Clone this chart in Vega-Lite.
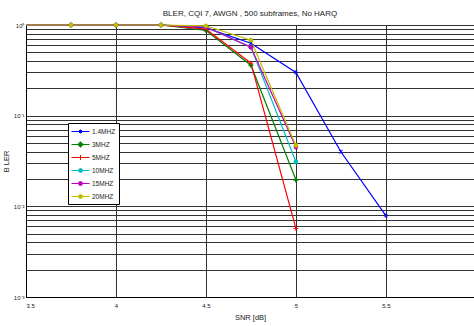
{
  "$schema": "https://vega.github.io/schema/vega-lite/v6.json",
  "width": 448,
  "height": 272,
  "autosize": {"type": "none"},
  "padding": {"left": 26, "top": 25, "right": 0, "bottom": 29},
  "background": "white",
  "title": {"text": "BLER, CQI 7, AWGN , 500 subframes, No HARQ", "fontSize": 8, "font": "Liberation Sans", "fontWeight": "normal", "anchor": "middle", "offset": 3, "color": "#222"},
  "config": {
    "view": {"stroke": "#000", "strokeWidth": 1},
    "axis": {"labelFont": "Liberation Sans", "titleFont": "Liberation Sans", "labelFontSize": 6, "titleFontSize": 7.5, "titleFontWeight": "normal", "labelColor": "#222", "titleColor": "#222", "ticks": false, "domainColor": "#000", "gridColor": "#333", "gridWidth": 1, "gridOpacity": 1}
  },
  "data": {"values": [
    {"snr": 3.5, "bler": 1, "series": "1.4MHZ"},
    {"snr": 3.75, "bler": 1, "series": "1.4MHZ"},
    {"snr": 4, "bler": 1, "series": "1.4MHZ"},
    {"snr": 4.25, "bler": 1, "series": "1.4MHZ"},
    {"snr": 4.5, "bler": 0.93, "series": "1.4MHZ"},
    {"snr": 4.75, "bler": 0.63, "series": "1.4MHZ"},
    {"snr": 5, "bler": 0.3, "series": "1.4MHZ"},
    {"snr": 5.25, "bler": 0.04, "series": "1.4MHZ"},
    {"snr": 5.5, "bler": 0.0079, "series": "1.4MHZ"},
    {"snr": 3.5, "bler": 1, "series": "3MHZ"},
    {"snr": 3.75, "bler": 1, "series": "3MHZ"},
    {"snr": 4, "bler": 1, "series": "3MHZ"},
    {"snr": 4.25, "bler": 1, "series": "3MHZ"},
    {"snr": 4.5, "bler": 0.87, "series": "3MHZ"},
    {"snr": 4.75, "bler": 0.36, "series": "3MHZ"},
    {"snr": 5, "bler": 0.0196, "series": "3MHZ"},
    {"snr": 3.5, "bler": 1, "series": "5MHZ"},
    {"snr": 3.75, "bler": 1, "series": "5MHZ"},
    {"snr": 4, "bler": 1, "series": "5MHZ"},
    {"snr": 4.25, "bler": 1, "series": "5MHZ"},
    {"snr": 4.5, "bler": 0.9, "series": "5MHZ"},
    {"snr": 4.75, "bler": 0.38, "series": "5MHZ"},
    {"snr": 5, "bler": 0.0057, "series": "5MHZ"},
    {"snr": 3.5, "bler": 1, "series": "10MHZ"},
    {"snr": 3.75, "bler": 1, "series": "10MHZ"},
    {"snr": 4, "bler": 1, "series": "10MHZ"},
    {"snr": 4.25, "bler": 1, "series": "10MHZ"},
    {"snr": 4.5, "bler": 0.95, "series": "10MHZ"},
    {"snr": 4.75, "bler": 0.57, "series": "10MHZ"},
    {"snr": 5, "bler": 0.031, "series": "10MHZ"},
    {"snr": 3.5, "bler": 1, "series": "15MHZ"},
    {"snr": 3.75, "bler": 1, "series": "15MHZ"},
    {"snr": 4, "bler": 1, "series": "15MHZ"},
    {"snr": 4.25, "bler": 1, "series": "15MHZ"},
    {"snr": 4.5, "bler": 0.95, "series": "15MHZ"},
    {"snr": 4.75, "bler": 0.57, "series": "15MHZ"},
    {"snr": 5, "bler": 0.045, "series": "15MHZ"},
    {"snr": 3.5, "bler": 1, "series": "20MHZ"},
    {"snr": 3.75, "bler": 1, "series": "20MHZ"},
    {"snr": 4, "bler": 1, "series": "20MHZ"},
    {"snr": 4.25, "bler": 1, "series": "20MHZ"},
    {"snr": 4.5, "bler": 0.98, "series": "20MHZ"},
    {"snr": 4.75, "bler": 0.68, "series": "20MHZ"},
    {"snr": 5, "bler": 0.047, "series": "20MHZ"}
  ]},
  "encoding": {
    "x": {"field": "snr", "type": "quantitative", "title": "SNR [dB]",
      "scale": {"domain": [3.5, 5.99], "nice": false, "zero": false},
      "axis": {"values": [3.5, 4, 4.5, 5, 5.5], "format": ".1~f", "labelPadding": 5, "titlePadding": 5}},
    "y": {"field": "bler", "type": "quantitative", "title": "B LER",
      "scale": {"type": "log", "domain": [0.001, 1], "nice": false},
      "axis": {"values": [0.001,0.002,0.003,0.004,0.005,0.006,0.007,0.008,0.009,0.01,0.02,0.03,0.04,0.05,0.06,0.07,0.08,0.09,0.1,0.2,0.3,0.4,0.5,0.6,0.7,0.8,0.9,1],
        "labelExpr": "datum.value == 1 ? '10⁰' : datum.value == 0.1 ? '10⁻¹' : datum.value == 0.01 ? '10⁻²' : datum.value == 0.001 ? '10⁻³' : ''",
        "labelPadding": 2, "titlePadding": 3}},
    "color": {"field": "series", "type": "nominal",
      "scale": {"domain": ["1.4MHZ","3MHZ","5MHZ","10MHZ","15MHZ","20MHZ"], "range": ["#0000ff","#008000","#ff0000","#00bfbf","#bf00bf","#bfbf00"]},
      "legend": {"title": null, "orient": "none", "legendX": 42, "legendY": 98,
        "strokeColor": "#000", "fillColor": "white", "padding": 3, "symbolSize": 100,
        "labelFont": "Liberation Sans", "labelFontSize": 6.5, "labelColor": "#222", "labelOffset": 10, "rowPadding": 3,
        "symbolStrokeWidth": 1,
        "encode": {"symbols": {"update": {
          "shape": {"signal": "datum.value === '1.4MHZ' ? 'M-1,0H2.6M0.5,-0.3L1.1,0.3M0.5,0.3L1.1,-0.3M0.8,-0.4V0.4' : datum.value === '3MHZ' ? 'M-1,0H2.6M0.66,-0.5H0.94V-0.14H1.3V0.14H0.94V0.5H0.66V0.14H0.3V-0.14H0.66Z' : datum.value === '5MHZ' ? 'M-1,0H2.6M0.8,-0.5V0.5' : 'M-1,0H2.6M0.4,0A0.4,0.4,0,1,0,1.2,0A0.4,0.4,0,1,0,0.4,0Z'"},
          "fill": {"signal": "scale('color', datum.value)"},
          "stroke": {"signal": "scale('color', datum.value)"},
          "strokeWidth": {"value": 1}
        }}}}
    }
  },
  "layer": [
    {
      "mark": {"type": "line", "strokeWidth": 1.2},
      "encoding": {"detail": {"field": "series"}}
    },
    {
      "transform": [{"filter": "datum.snr > 3.6 && datum.series == '1.4MHZ'"}],
      "mark": {"type": "point", "filled": false, "size": 12, "strokeWidth": 1, "opacity": 1, "shape": "M-1,-1L1,1M-1,1L1,-1M0,-1.2V1.2"}
    },
    {
      "transform": [{"filter": "datum.snr > 3.6 && datum.series == '3MHZ'"}],
      "mark": {"type": "point", "filled": true, "size": 22, "opacity": 1, "shape": "cross"}
    },
    {
      "transform": [{"filter": "datum.snr > 3.6 && datum.series == '5MHZ'"}],
      "mark": {"type": "point", "filled": false, "size": 16, "strokeWidth": 1, "opacity": 1, "shape": "M-1.2,0H1.2M0,-1.2V1.2"}
    },
    {
      "transform": [{"filter": "datum.snr > 3.6 && (datum.series == '10MHZ' || datum.series == '15MHZ' || datum.series == '20MHZ')"}],
      "mark": {"type": "point", "filled": true, "size": 22, "opacity": 1, "shape": "circle"}
    }
  ]
}
